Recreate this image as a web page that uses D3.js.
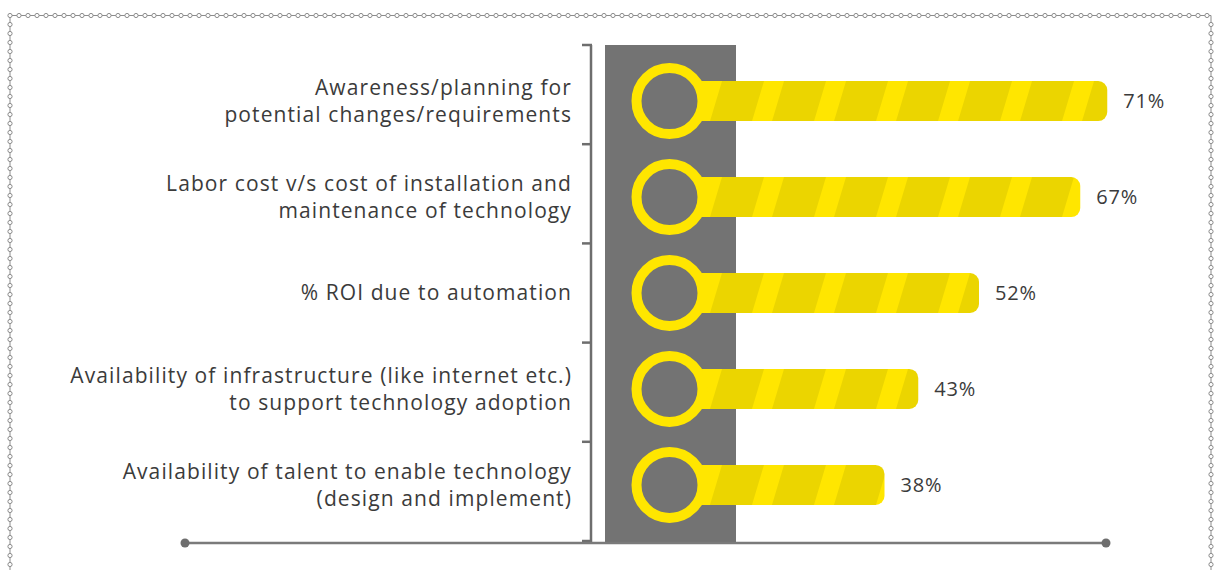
<!DOCTYPE html>
<html>
<head>
<meta charset="utf-8">
<script src="https://cdn.jsdelivr.net/npm/d3@7"></script>
<style>
  body { margin: 0; background: #fff; }
  svg { display: block; }
</style>
</head>
<body>
<div class="chart"></div>
<script>
// factors and their share of respondents (%)
const categories = [
  ["Awareness/planning for", "potential changes/requirements"],
  ["Labor cost v/s cost of installation and", "maintenance of technology"],
  ["% ROI due to automation"],
  ["Availability of infrastructure (like internet etc.)", "to support technology adoption"],
  ["Availability of talent to enable technology", "(design and implement)"]
];
const values = [71, 67, 52, 43, 38];
const valueLabels = values.map(v => v + "%");

const WIDTH = 1215, HEIGHT = 570;
const yellow = "#ffe600", yellowDark = "#ebd500", gray = "#737373", textColor = "#3b3b3b";
const font = "'Open Sans', sans-serif";

const svg = d3.select(".chart").append("svg")
  .attr("width", WIDTH)
  .attr("height", HEIGHT);

// stripe pattern for the bars (user space of each row group)
const defs = svg.append("defs");
const pat = defs.append("pattern")
  .attr("id", "stripes")
  .attr("patternUnits", "userSpaceOnUse")
  .attr("x", 34)
  .attr("width", 62)
  .attr("height", 200)
  .attr("patternTransform", "skewX(-16.7)");
pat.append("rect").attr("width", 62).attr("height", 200).attr("fill", yellow);
pat.append("rect").attr("width", 42).attr("height", 200).attr("fill", yellowDark);

// dotted chain border
const border = svg.append("g").attr("stroke", "#8c8c8c").attr("stroke-width", 1).attr("fill", "#fff");
border.append("path")
  .attr("fill", "none")
  .attr("d", "M10,575 L10,15.5 L1211,15.5 L1211,575");
const dots = [];
d3.range(10, 1212, 9).forEach(x => dots.push([x, 15.5]));
d3.range(24.5, 575, 9).forEach(y => { dots.push([10, y]); dots.push([1211, y]); });
border.selectAll("circle").data(dots).enter().append("circle")
  .attr("cx", d => d[0]).attr("cy", d => d[1]).attr("r", 2.1);

// scales
const plotTop = 45, plotBottom = 541;
const yBand = d3.scaleBand().domain(d3.range(categories.length)).range([plotTop, plotBottom]);
const yPoint = d3.scalePoint().domain(d3.range(categories.length)).range([plotTop, plotBottom]).padding(0.585);
const x = d3.scaleLinear().domain([0, 100]).range([628, 1303]);

// gray column behind the rings
svg.append("rect")
  .attr("x", 605).attr("y", plotTop)
  .attr("width", 131).attr("height", 543 - plotTop)
  .attr("fill", gray);

// left bracket axis
const axis = svg.append("g").attr("stroke", "#6e6e6e").attr("stroke-width", 2.5).attr("fill", "none");
axis.append("line").attr("x1", 591).attr("x2", 591).attr("y1", plotTop).attr("y2", 543);
const ticks = yBand.domain().map(d => yBand(d)).concat([plotBottom]);
axis.selectAll(".tick").data(ticks).enter().append("line")
  .attr("x1", 582).attr("x2", 592)
  .attr("y1", d => d).attr("y2", d => d);

// baseline with end dots
svg.append("line")
  .attr("x1", 185).attr("x2", 1106).attr("y1", 543).attr("y2", 543)
  .attr("stroke", "#7a7a7a").attr("stroke-width", 2.5);
svg.selectAll(".enddot").data([185, 1106]).enter().append("circle")
  .attr("cx", d => d).attr("cy", 543).attr("r", 4.5).attr("fill", "#6e6e6e");

// rows
const cx = 669.5;
const rows = svg.selectAll(".row").data(values).enter().append("g")
  .attr("class", "row")
  .attr("transform", (d, i) => `translate(0,${yPoint(i)})`);

rows.append("rect")
  .attr("x", cx)
  .attr("y", -20)
  .attr("height", 40)
  .attr("width", d => x(d) - cx)
  .attr("rx", 9)
  .attr("fill", "url(#stripes)");

rows.append("circle")
  .attr("cx", cx).attr("cy", 0).attr("r", 33)
  .attr("fill", gray)
  .attr("stroke", yellow)
  .attr("stroke-width", 10);

rows.append("text")
  .attr("x", d => x(d) + 16)
  .attr("dy", "0.35em")
  .attr("fill", textColor)
  .style("font-family", font)
  .style("font-size", "20px")
  .style("letter-spacing", "0.8px")
  .text((d, i) => valueLabels[i]);

// category labels
rows.each(function(d, i) {
  const lines = categories[i];
  const t = d3.select(this).append("text")
    .attr("text-anchor", "end")
    .attr("fill", textColor)
    .style("font-family", font)
    .style("font-size", "21px")
    .style("letter-spacing", "1.1px");
  lines.forEach((line, j) => {
    t.append("tspan")
      .attr("x", 572)
      .attr("y", (j - (lines.length - 1) / 2) * 27)
      .attr("dy", "0.35em")
      .text(line);
  });
});
</script>
</body>
</html>
